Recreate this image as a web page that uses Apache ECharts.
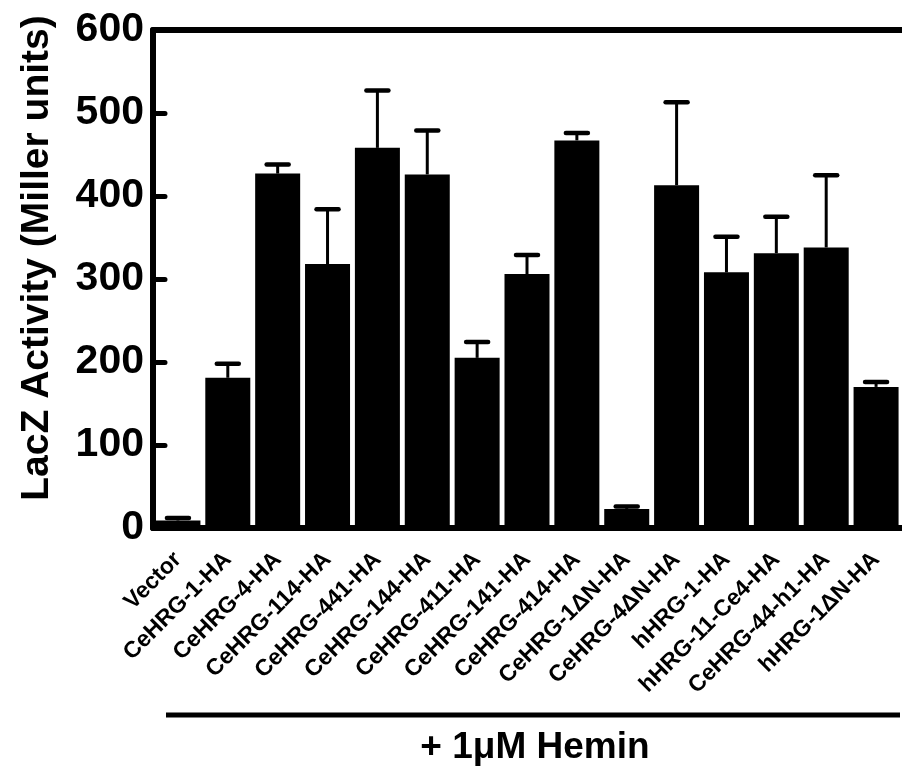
<!DOCTYPE html>
<html>
<head>
<meta charset="utf-8">
<script src="https://cdn.jsdelivr.net/npm/echarts@6/dist/echarts.min.js"></script>
<style>
  html, body { margin: 0; padding: 0; background: #fff; }
  #chart { width: 902px; height: 773px; }
</style>
</head>
<body>
<div id="chart"></div>
<script>
const categories = [
  'Vector', 'CeHRG-1-HA', 'CeHRG-4-HA', 'CeHRG-114-HA', 'CeHRG-441-HA',
  'CeHRG-144-HA', 'CeHRG-411-HA', 'CeHRG-141-HA', 'CeHRG-414-HA', 'CeHRG-1ΔN-HA',
  'CeHRG-4ΔN-HA', 'hHRG-1-HA', 'hHRG-11-Ce4-HA', 'CeHRG-44-h1-HA', 'hHRG-1ΔN-HA'
]
const activity = [9, 181, 427, 318, 458, 426, 205, 306, 467, 23, 413, 308, 331, 338, 170]
const errors = [3, 17, 11, 66, 69, 53, 19, 23, 9, 3, 100, 43, 44, 87, 6]
const yTicks = [0, 100, 200, 300, 400, 500, 600]

const FONT = '"Liberation Sans", Arial, sans-serif'

const chart = echarts.init(document.getElementById('chart'))

// error bars: stem from bar top up to mean + SEM, with a rounded cap
const renderError = (params, api) => {
  const i = api.value(0)
  const base = api.coord([i, api.value(1)])
  const top = api.coord([i, api.value(1) + api.value(2)])
  return {
    type: 'group',
    children: [
      { type: 'line', shape: { x1: base[0], y1: base[1], x2: top[0], y2: top[1] },
        style: { stroke: '#000', lineWidth: 3 } },
      { type: 'line', shape: { x1: top[0] - 11, y1: top[1], x2: top[0] + 11, y2: top[1] },
        style: { stroke: '#000', lineWidth: 4.5, lineCap: 'round' } }
    ]
  }
}

const option = {
  animation: false,
  grid: { left: 153, right: 1, top: 30, bottom: 245 },
  xAxis: [
    {
      type: 'category',
      data: categories,
      axisLine: { lineStyle: { color: '#000', width: 6 } },
      axisTick: { alignWithLabel: true, length: 7, lineStyle: { color: '#000', width: 5, cap: 'round' } },
      axisLabel: {
        rotate: 45, interval: 0, margin: 28,
        color: '#000', fontFamily: FONT, fontWeight: 'bold', fontSize: 23
      }
    },
    {
      type: 'category',
      position: 'top',
      data: categories,
      axisLine: { lineStyle: { color: '#000', width: 6 } },
      axisTick: { show: false },
      axisLabel: { show: false }
    }
  ],
  yAxis: {
    type: 'value',
    min: yTicks[0],
    max: yTicks[yTicks.length - 1],
    interval: yTicks[1] - yTicks[0],
    splitLine: { show: false },
    axisLine: { show: true, lineStyle: { color: '#000', width: 6 } },
    axisTick: { show: true, inside: true, length: 12, lineStyle: { color: '#000', width: 5, cap: 'round' } },
    axisLabel: {
      margin: 9, color: '#000', fontFamily: FONT, fontWeight: 'bold', fontSize: 41
    }
  },
  graphic: [
    {
      type: 'text', x: 37, y: 258, rotation: Math.PI / 2,
      style: {
        text: 'LacZ Activity (Miller units)', fill: '#000',
        font: 'bold 39px ' + FONT, align: 'center', verticalAlign: 'middle'
      }
    },
    {
      type: 'line', shape: { x1: 166, y1: 715, x2: 900, y2: 715 },
      style: { stroke: '#000', lineWidth: 5 }
    },
    {
      type: 'text', x: 535, y: 748,
      style: {
        text: '+ 1μM Hemin', fill: '#000',
        font: 'bold 37px ' + FONT, align: 'center', verticalAlign: 'middle'
      }
    }
  ],
  series: [
    {
      type: 'bar',
      data: activity,
      barWidth: 45,
      itemStyle: { color: '#000' }
    },
    {
      type: 'custom',
      renderItem: renderError,
      data: categories.map((c, i) => [i, activity[i], errors[i]]),
      encode: { x: 0, y: 1 },
      z: 5
    }
  ]
}

chart.setOption(option)
</script>
</body>
</html>
